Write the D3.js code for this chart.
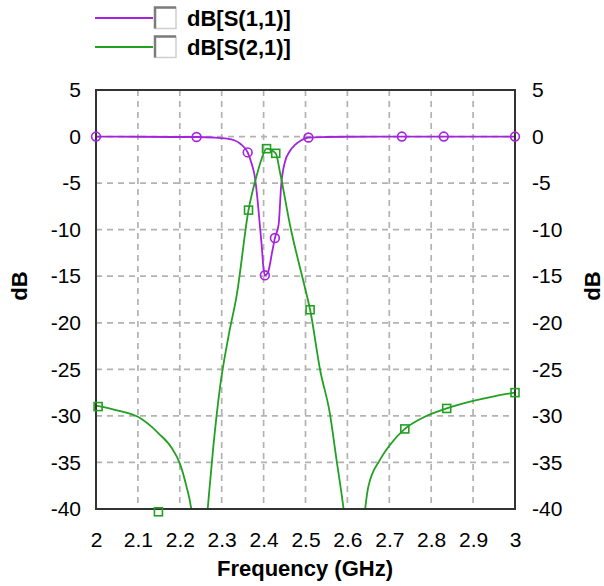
<!DOCTYPE html>
<html>
<head>
<meta charset="utf-8">
<script src="https://cdn.jsdelivr.net/npm/d3@7"></script>
<style>
  body { margin: 0; background: #fff; }
  text { font-family: "Liberation Sans", Arial, sans-serif; fill: #000; }
</style>
</head>
<body>
<svg width="604" height="586"></svg>
<script>
// ### Data ###
var freqTicks = [2, 2.1, 2.2, 2.3, 2.4, 2.5, 2.6, 2.7, 2.8, 2.9, 3];
var dbTicks = [5, 0, -5, -10, -15, -20, -25, -30, -35, -40];

// dB[S(1,1)] trace: [GHz, dB]
var s11 = [
  [2.0, 0], [2.1, -0.02], [2.2, -0.05], [2.24, -0.05], [2.28, -0.1],
  [2.308, -0.2], [2.33, -0.4], [2.345, -0.8], [2.362, -1.7], [2.372, -3.0],
  [2.379, -4.3], [2.386, -7], [2.391, -9.5], [2.396, -12], [2.399, -13.8],
  [2.403, -14.9], [2.411, -14.5], [2.42, -12.5], [2.427, -10.9], [2.436, -9.4],
  [2.442, -5.2], [2.451, -2.7], [2.462, -1.6], [2.475, -0.9], [2.49, -0.4],
  [2.507, -0.1], [2.55, -0.05], [2.6, -0.02], [2.73, 0], [2.83, 0], [3.0, 0]
];
var s11Markers = [
  [2.0, 0], [2.24, -0.05], [2.362, -1.7], [2.403, -14.9], [2.427, -10.9],
  [2.507, -0.1], [2.73, 0], [2.83, 0], [3.0, 0]
];

// dB[S(2,1)] trace: [GHz, dB]  (nulls go below the -40 floor)
var s21 = [
  [2.0, -28.9], [2.05, -29.4], [2.1, -30.1], [2.15, -31.9], [2.18, -33.4],
  [2.2, -35.1], [2.216, -37.6], [2.227, -39.9], [2.24, -46], [2.255, -46],
  [2.266, -40.3], [2.28, -33.3], [2.296, -26.9], [2.316, -21.5], [2.336, -17.0],
  [2.364, -7.9], [2.384, -4.1], [2.396, -2.3], [2.407, -1.3], [2.429, -1.8],
  [2.439, -3.8], [2.463, -9.5], [2.499, -16.3], [2.511, -18.6], [2.535, -25.1],
  [2.558, -29.7], [2.574, -34.7], [2.59, -39.7], [2.605, -46], [2.63, -46],
  [2.642, -40.1], [2.65, -37.6], [2.678, -34.7], [2.7, -33.2], [2.737, -31.4],
  [2.78, -30.2], [2.837, -29.2], [2.9, -28.4], [2.95, -27.9], [3.0, -27.5]
];
var s21Markers = [
  [2.005, -29], [2.149, -40.3], [2.364, -7.9], [2.407, -1.3], [2.429, -1.8],
  [2.511, -18.6], [2.737, -31.4], [2.837, -29.2], [3.0, -27.5]
];

var seriesNames = ['dB[S(1,1)]', 'dB[S(2,1)]'];
var seriesColors = ['#a424dc', '#22a022'];

// ### Canvas ###
var svg = d3.select('svg');
var plot = {left: 96, right: 515, top: 90, bottom: 509};

var xScale = d3.scaleLinear().domain([2, 3]).range([plot.left, plot.right]);
var yScale = d3.scaleLinear().domain([-40, 5]).range([plot.bottom, plot.top]);

svg.append('clipPath').attr('id', 'plotclip')
  .append('rect')
  .attr('x', plot.left).attr('y', plot.top)
  .attr('width', plot.right - plot.left).attr('height', plot.bottom - plot.top);

// ### Grid ###
var grid = svg.append('g')
  .attr('stroke', '#b2b2b2')
  .attr('stroke-width', 1.7)
  .attr('stroke-dasharray', '6,5');

grid.selectAll('.vg')
  .data(freqTicks.slice(1, -1))
  .enter().append('line')
  .attr('x1', d => xScale(d)).attr('x2', d => xScale(d))
  .attr('y1', plot.top).attr('y2', plot.bottom);

grid.selectAll('.hg')
  .data(dbTicks.slice(1, -1))
  .enter().append('line')
  .attr('y1', d => yScale(d)).attr('y2', d => yScale(d))
  .attr('x1', plot.left).attr('x2', plot.right);

// ### Axes (labels only, frame drawn below) ###
var plain = d => String(d);   // plain hyphen minus like the original
var xAxis = d3.axisBottom(xScale).tickValues(freqTicks).tickSize(0).tickPadding(23)
  .tickFormat(plain);
var yAxisL = d3.axisLeft(yScale).tickValues(dbTicks).tickSize(0).tickPadding(15)
  .tickFormat(plain);
var yAxisR = d3.axisRight(yScale).tickValues(dbTicks).tickSize(0).tickPadding(17)
  .tickFormat(plain);

function styleAxis(g) {
  g.select('.domain').remove();
  g.selectAll('text')
    .style('font-family', '"Liberation Sans", Arial, sans-serif')
    .style('font-size', '21px')
    .attr('fill', '#000');
}

svg.append('g').attr('transform', `translate(0,${plot.bottom})`).call(xAxis).call(styleAxis);
svg.append('g').attr('transform', `translate(${plot.left},0)`).call(yAxisL).call(styleAxis);
svg.append('g').attr('transform', `translate(${plot.right},0)`).call(yAxisR).call(styleAxis);

// ### Traces ###
var line = d3.line()
  .x(d => xScale(d[0]))
  .y(d => yScale(d[1]))
  .curve(d3.curveMonotoneX);

var traces = svg.append('g').attr('clip-path', 'url(#plotclip)');
[s11, s21].forEach(function(s, i) {
  traces.append('path')
    .datum(s)
    .attr('fill', 'none')
    .attr('stroke', seriesColors[i])
    .attr('stroke-width', 1.8)
    .attr('d', line);
});

// frame
svg.append('rect')
  .attr('x', plot.left).attr('y', plot.top)
  .attr('width', plot.right - plot.left).attr('height', plot.bottom - plot.top)
  .attr('fill', 'none')
  .attr('stroke', '#333')
  .attr('stroke-width', 2);

// ### Markers ###
svg.selectAll('.m11')
  .data(s11Markers)
  .enter().append('circle')
  .attr('cx', d => xScale(d[0]))
  .attr('cy', d => yScale(d[1]))
  .attr('r', 4.4)
  .attr('fill', 'none')
  .attr('stroke', seriesColors[0])
  .attr('stroke-width', 1.6);

svg.selectAll('.m21')
  .data(s21Markers)
  .enter().append('rect')
  .attr('x', d => xScale(d[0]) - 4)
  .attr('y', d => Math.min(yScale(d[1]), plot.bottom + 3) - 4)
  .attr('width', 8).attr('height', 8)
  .attr('fill', 'none')
  .attr('stroke', seriesColors[1])
  .attr('stroke-width', 1.6);

// ### Axis titles ###
svg.append('text')
  .attr('x', 305).attr('y', 576)
  .attr('text-anchor', 'middle')
  .style('font-size', '22px').style('font-weight', 'bold')
  .text('Frequency (GHz)');

svg.append('text')
  .attr('transform', 'translate(27,286) rotate(-90)')
  .attr('text-anchor', 'middle')
  .style('font-size', '22px').style('font-weight', 'bold')
  .text('dB');

svg.append('text')
  .attr('transform', 'translate(600,286) rotate(-90)')
  .attr('text-anchor', 'middle')
  .style('font-size', '22px').style('font-weight', 'bold')
  .text('dB');

// ### Legend ###
var legend = svg.selectAll('.leg')
  .data(seriesNames)
  .enter().append('g')
  .attr('transform', (d, i) => `translate(0,${18 + i * 29})`);

legend.append('line')
  .attr('x1', 95).attr('x2', 153)
  .attr('y1', 0).attr('y2', 0)
  .attr('stroke', (d, i) => seriesColors[i])
  .attr('stroke-width', 1.8);

// checkbox with sunken 3D edge
legend.append('rect')
  .attr('x', 155).attr('y', -10.5)
  .attr('width', 21).attr('height', 21)
  .attr('fill', '#fff')
  .attr('stroke', '#cfcfcf')
  .attr('stroke-width', 1.5);
legend.append('path')
  .attr('d', 'M155,10.5 V-10.5 H176')
  .attr('fill', 'none')
  .attr('stroke', '#7c7c7c')
  .attr('stroke-width', 2.5);

legend.append('text')
  .attr('x', 187).attr('y', 8)
  .style('font-size', '22px').style('font-weight', 'bold')
  .text(d => d);
</script>
</body>
</html>
